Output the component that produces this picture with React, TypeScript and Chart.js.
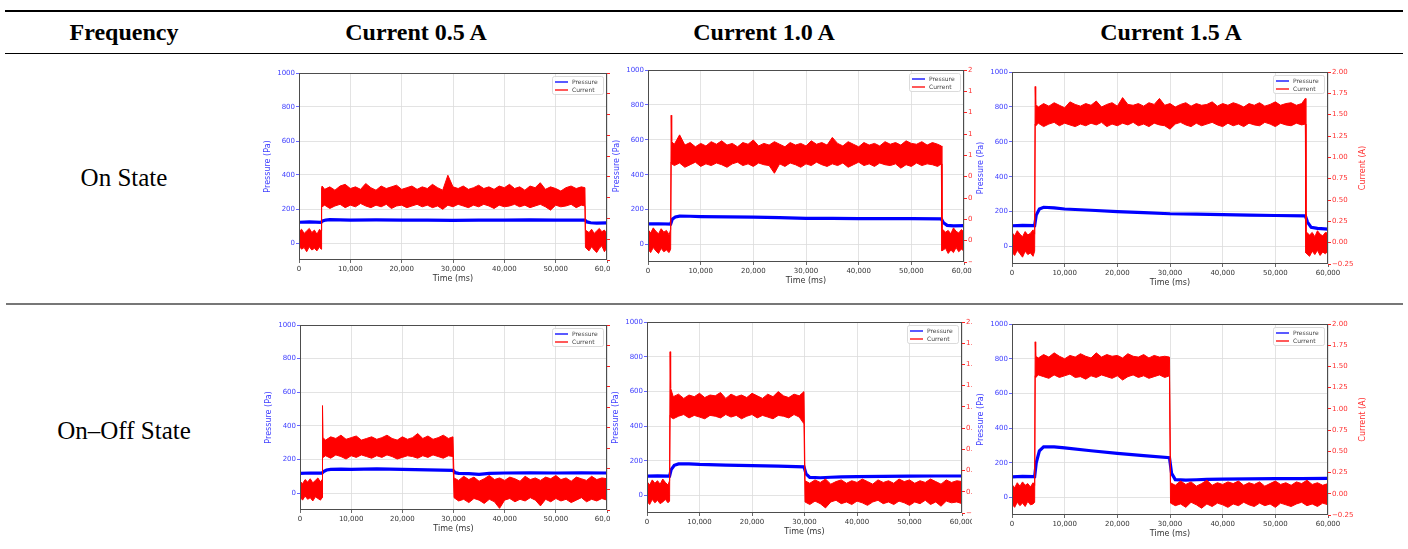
import React, { useEffect, useRef } from "react";
import { Chart, registerables } from "chart.js";

Chart.register(...registerables);

// ---------- text ----------
const HEADERS = ["Frequency", "Current 0.5 A", "Current 1.0 A", "Current 1.5 A"];
const ROW_LABELS = ["On State", "On\u2013Off State"];
const SERIES_LABELS = ["Pressure", "Current"];
const X_TITLE = "Time (ms)";
const Y_TITLE = "Pressure (Pa)";
const Y1_TITLE = "Current (A)";

// ---------- ticks ----------
const TIME_TICKS = [0, 10000, 20000, 30000, 40000, 50000, 60000];
const PRESSURE_TICKS = [0, 200, 400, 600, 800, 1000];
const CURRENT_TICKS = [-0.25, 0, 0.25, 0.5, 0.75, 1, 1.25, 1.5, 1.75, 2];
const CURRENT_TICK_LABELS = ["\u22120.25", "0.00", "0.25", "0.50", "0.75", "1.00", "1.25", "1.50", "1.75", "2.00"];

// ---------- pressure (Pa) ----------
const PRESS_T_ON = [0, 2000, 4300, 4600, 5200, 6000, 8000, 10000, 15000, 20000, 25000, 30000, 35000, 40000, 45000, 50000, 55700, 56100, 56800, 58000, 60000];
const PRESS_A = [122, 124, 121, 130, 135, 137, 136, 135, 136, 134, 135, 133, 135, 134, 136, 134, 135, 124, 119, 117, 118];
const PRESS_B = [118, 119, 117, 145, 158, 163, 162, 160, 158, 157, 154, 150, 150, 149, 148, 148, 147, 125, 110, 107, 108];
const PRESS_C = [119, 121, 120, 180, 215, 225, 222, 215, 208, 200, 194, 188, 186, 183, 180, 178, 176, 140, 110, 104, 100];

const PRESS_T_ONOFF = [0, 2000, 4300, 4600, 5200, 6000, 8000, 10000, 15000, 20000, 25000, 29900, 30300, 31000, 33000, 35000, 37000, 40000, 45000, 50000, 55000, 60000];
const PRESS_D = [118, 120, 119, 128, 138, 142, 143, 142, 144, 142, 138, 136, 122, 118, 116, 112, 118, 120, 121, 120, 121, 120];
const PRESS_E = [112, 114, 113, 150, 175, 183, 183, 180, 176, 173, 170, 166, 125, 105, 103, 106, 108, 110, 111, 112, 113, 113];
const PRESS_F = [120, 122, 121, 200, 270, 293, 292, 287, 270, 255, 242, 230, 140, 104, 101, 103, 105, 107, 108, 109, 110, 111];

// ---------- current (A): upper / lower edge of the noisy trace ----------
const CUR_T_ON = [
  0, 500, 1000, 1500, 2000, 2500, 3000, 3500, 4000, 4300,
  4400, 4500, 5000, 6000, 7000, 8000, 9000, 10000, 11000, 12000,
  13000, 14000, 15000, 16000, 17000, 18000, 19000, 20000, 21000, 22000,
  23000, 24000, 25000, 26000, 27000, 28000, 29000, 30000, 31000, 32000,
  33000, 34000, 35000, 36000, 37000, 38000, 39000, 40000, 41000, 42000,
  43000, 44000, 45000, 46000, 47000, 48000, 49000, 50000, 51000, 52000,
  53000, 54000, 55000, 55700,
  55800, 56500, 57000, 57500, 58000, 58500, 59000, 59500, 60000,
];
const CUR_A_HI = [
  0.09, 0.12, 0.07, 0.10, 0.13, 0.08, 0.11, 0.06, 0.12, 0.10,
  0.62, 0.64, 0.60, 0.63, 0.59, 0.64, 0.66, 0.61, 0.63, 0.60,
  0.67, 0.62, 0.59, 0.64, 0.61, 0.63, 0.65, 0.60, 0.62, 0.64,
  0.60, 0.63, 0.61, 0.66, 0.62, 0.59, 0.77, 0.63, 0.61, 0.64,
  0.60, 0.62, 0.65, 0.61, 0.63, 0.60, 0.64, 0.62, 0.66, 0.61,
  0.63, 0.59, 0.64, 0.62, 0.68, 0.60, 0.63, 0.61, 0.58, 0.62,
  0.64, 0.61, 0.63, 0.62,
  0.11, 0.08, 0.12, 0.07, 0.10, 0.13, 0.09, 0.11, 0.06,
];
const CUR_A_LO = [
  -0.08, -0.12, -0.10, -0.15, -0.09, -0.13, -0.11, -0.14, -0.09, -0.12,
  0.40, 0.39, 0.41, 0.37, 0.40, 0.42, 0.38, 0.41, 0.39, 0.43,
  0.40, 0.38, 0.41, 0.39, 0.42, 0.37, 0.40, 0.41, 0.38, 0.40,
  0.42, 0.39, 0.41, 0.38, 0.40, 0.36, 0.41, 0.39, 0.42, 0.40,
  0.38, 0.41, 0.39, 0.42, 0.40, 0.37, 0.41, 0.39, 0.40, 0.42,
  0.39, 0.41, 0.38, 0.40, 0.42, 0.39, 0.35, 0.41, 0.39, 0.40,
  0.42, 0.38, 0.41, 0.40,
  -0.10, -0.14, -0.09, -0.13, -0.16, -0.11, -0.08, -0.15, -0.10,
];
const CUR_B_HI = [
  0.13, 0.09, 0.15, 0.11, 0.08, 0.14, 0.10, 0.12, 0.07, 0.13,
  1.47, 1.16, 1.13, 1.24, 1.12, 1.15, 1.10, 1.14, 1.11, 1.16,
  1.13, 1.17, 1.12, 1.14, 1.10, 1.15, 1.13, 1.18, 1.11, 1.14,
  1.12, 1.16, 1.13, 1.10, 1.15, 1.12, 1.14, 1.11, 1.17, 1.13,
  1.15, 1.12, 1.21, 1.14, 1.11, 1.16, 1.13, 1.10, 1.15, 1.12,
  1.14, 1.11, 1.16, 1.13, 1.15, 1.12, 1.17, 1.14, 1.13, 1.16,
  1.12, 1.15, 1.13, 1.11,
  0.14, 0.10, 0.12, 0.08, 0.15, 0.11, 0.09, 0.13, 0.10,
];
const CUR_B_LO = [
  -0.10, -0.14, -0.08, -0.12, -0.15, -0.09, -0.13, -0.11, -0.14, -0.10,
  0.92, 0.90, 0.88, 0.91, 0.86, 0.89, 0.92, 0.87, 0.90, 0.88,
  0.91, 0.89, 0.86, 0.90, 0.92, 0.88, 0.90, 0.87, 0.91, 0.89,
  0.88, 0.79, 0.90, 0.87, 0.91, 0.89, 0.86, 0.90, 0.88, 0.92,
  0.89, 0.87, 0.90, 0.88, 0.91, 0.86, 0.89, 0.92, 0.88, 0.90,
  0.87, 0.91, 0.89, 0.88, 0.90, 0.85, 0.89, 0.87, 0.91, 0.88,
  0.90, 0.89, 0.87, 0.90,
  -0.12, -0.09, -0.15, -0.11, -0.14, -0.08, -0.13, -0.10, -0.12,
];
const CUR_C_HI = [
  0.12, 0.08, 0.14, 0.10, 0.07, 0.13, 0.09, 0.11, 0.15, 0.10,
  1.83, 1.62, 1.59, 1.63, 1.60, 1.64, 1.61, 1.58, 1.65, 1.62,
  1.60, 1.63, 1.61, 1.66, 1.59, 1.62, 1.64, 1.60, 1.70, 1.62,
  1.61, 1.63, 1.60, 1.64, 1.62, 1.69, 1.61, 1.63, 1.59, 1.62,
  1.64, 1.60, 1.63, 1.61, 1.62, 1.65, 1.60, 1.63, 1.61, 1.64,
  1.62, 1.59, 1.63, 1.61, 1.64, 1.60, 1.62, 1.65, 1.61, 1.63,
  1.64, 1.61, 1.63, 1.69,
  0.13, 0.09, 0.12, 0.07, 0.14, 0.10, 0.08, 0.12, 0.11,
];
const CUR_C_LO = [
  -0.11, -0.15, -0.09, -0.13, -0.17, -0.10, -0.14, -0.12, -0.16, -0.10,
  1.39, 1.37, 1.40, 1.36, 1.39, 1.41, 1.37, 1.40, 1.38, 1.36,
  1.39, 1.37, 1.40, 1.38, 1.41, 1.36, 1.39, 1.37, 1.40, 1.38,
  1.41, 1.37, 1.39, 1.36, 1.40, 1.38, 1.37, 1.33, 1.39, 1.41,
  1.38, 1.36, 1.40, 1.37, 1.39, 1.41, 1.38, 1.36, 1.40, 1.37,
  1.39, 1.36, 1.40, 1.38, 1.37, 1.41, 1.39, 1.36, 1.40, 1.38,
  1.37, 1.40, 1.38, 1.39,
  -0.12, -0.16, -0.10, -0.14, -0.09, -0.15, -0.11, -0.13, -0.10,
];

const CUR_T_ONOFF = [
  0, 500, 1000, 1500, 2000, 2500, 3000, 3500, 4000, 4300,
  4400, 4500, 5000, 6000, 7000, 8000, 9000, 10000, 11000, 12000,
  13000, 14000, 15000, 16000, 17000, 18000, 19000, 20000, 21000, 22000,
  23000, 24000, 25000, 26000, 27000, 28000, 29000, 29900,
  30100, 31000, 32000, 33000, 34000, 35000, 36000, 37000, 38000, 39000,
  40000, 41000, 42000, 43000, 44000, 45000, 46000, 47000, 48000, 49000,
  50000, 51000, 52000, 53000, 54000, 55000, 56000, 57000, 58000, 59000,
  60000,
];
const CUR_D_HI = [
  0.10, 0.07, 0.12, 0.09, 0.13, 0.08, 0.11, 0.14, 0.09, 0.12,
  1.02, 0.63, 0.60, 0.64, 0.62, 0.66, 0.61, 0.63, 0.65, 0.60,
  0.62, 0.64, 0.61, 0.63, 0.66, 0.62, 0.60, 0.64, 0.61, 0.63,
  0.68, 0.62, 0.65, 0.61, 0.63, 0.66, 0.62, 0.64,
  0.14, 0.11, 0.16, 0.12, 0.15, 0.10, 0.13, 0.17, 0.12, 0.14,
  0.11, 0.15, 0.13, 0.10, 0.16, 0.12, 0.14, 0.11, 0.15, 0.13,
  0.17, 0.12, 0.14, 0.10, 0.15, 0.13, 0.11, 0.16, 0.12, 0.14,
  0.13,
];
const CUR_D_LO = [
  -0.09, -0.13, -0.08, -0.12, -0.10, -0.14, -0.09, -0.11, -0.13, -0.10,
  0.42, 0.39, 0.41, 0.38, 0.42, 0.40, 0.37, 0.41, 0.39, 0.42,
  0.40, 0.38, 0.41, 0.39, 0.42, 0.40, 0.37, 0.39, 0.41, 0.40,
  0.38, 0.41, 0.39, 0.42, 0.40, 0.38, 0.41, 0.40,
  -0.10, -0.14, -0.12, -0.16, -0.11, -0.13, -0.17, -0.12, -0.15, -0.23,
  -0.13, -0.11, -0.15, -0.12, -0.14, -0.10, -0.13, -0.20, -0.12, -0.15,
  -0.11, -0.14, -0.12, -0.16, -0.13, -0.10, -0.15, -0.12, -0.14, -0.11,
  -0.13,
];
const CUR_E_HI = [
  0.12, 0.08, 0.14, 0.10, 0.13, 0.09, 0.15, 0.11, 0.08, 0.13,
  1.65, 1.22, 1.12, 1.15, 1.10, 1.14, 1.12, 1.16, 1.11, 1.14,
  1.13, 1.17, 1.10, 1.15, 1.12, 1.14, 1.11, 1.16, 1.13, 1.10,
  1.15, 1.12, 1.18, 1.13, 1.11, 1.15, 1.13, 1.18,
  0.13, 0.10, 0.14, 0.11, 0.15, 0.09, 0.12, 0.14, 0.10, 0.13,
  0.11, 0.15, 0.12, 0.09, 0.14, 0.11, 0.13, 0.10, 0.15, 0.12,
  0.14, 0.10, 0.13, 0.11, 0.15, 0.12, 0.09, 0.14, 0.11, 0.13,
  0.12,
];
const CUR_E_LO = [
  -0.11, -0.15, -0.09, -0.13, -0.10, -0.14, -0.12, -0.09, -0.13, -0.11,
  0.90, 0.88, 0.86, 0.89, 0.91, 0.87, 0.90, 0.88, 0.86, 0.90,
  0.89, 0.87, 0.91, 0.88, 0.90, 0.86, 0.89, 0.91, 0.87, 0.90,
  0.88, 0.86, 0.90, 0.89, 0.87, 0.91, 0.88, 0.80,
  -0.12, -0.15, -0.11, -0.14, -0.19, -0.12, -0.10, -0.14, -0.12, -0.15,
  -0.11, -0.13, -0.16, -0.12, -0.10, -0.14, -0.12, -0.15, -0.11, -0.13,
  -0.16, -0.12, -0.14, -0.10, -0.15, -0.12, -0.17, -0.11, -0.13, -0.12,
  -0.14,
];
const CUR_F_HI = [
  0.11, 0.07, 0.13, 0.09, 0.14, 0.10, 0.12, 0.08, 0.13, 0.10,
  1.79, 1.62, 1.60, 1.64, 1.61, 1.66, 1.62, 1.59, 1.63, 1.61,
  1.65, 1.62, 1.60, 1.66, 1.61, 1.64, 1.62, 1.63, 1.60, 1.65,
  1.62, 1.61, 1.64, 1.60, 1.63, 1.61, 1.62, 1.61,
  0.13, 0.10, 0.15, 0.11, 0.14, 0.09, 0.12, 0.16, 0.10, 0.13,
  0.11, 0.14, 0.12, 0.15, 0.10, 0.13, 0.11, 0.14, 0.09, 0.12,
  0.15, 0.11, 0.13, 0.10, 0.14, 0.12, 0.16, 0.11, 0.13, 0.10,
  0.12,
];
const CUR_F_LO = [
  -0.12, -0.16, -0.10, -0.14, -0.11, -0.15, -0.09, -0.13, -0.12, -0.10,
  1.39, 1.37, 1.40, 1.38, 1.36, 1.40, 1.37, 1.39, 1.41, 1.37,
  1.38, 1.35, 1.39, 1.37, 1.40, 1.38, 1.36, 1.39, 1.34, 1.38,
  1.40, 1.37, 1.39, 1.36, 1.38, 1.40, 1.37, 1.39,
  -0.11, -0.14, -0.12, -0.16, -0.10, -0.13, -0.17, -0.12, -0.15, -0.11,
  -0.13, -0.16, -0.12, -0.14, -0.10, -0.13, -0.15, -0.11, -0.14, -0.12,
  -0.16, -0.11, -0.13, -0.15, -0.12, -0.10, -0.14, -0.12, -0.15, -0.11,
  -0.13,
];

// ---------- layout ----------
const SERIF = '"Liberation Serif", "Times New Roman", serif';
const SANS = '"DejaVu Sans", sans-serif';
const LEFT_W = 40;
const RIGHT_W = 46;
const TOP_PAD = 6;
const X_H = 26;

type PanelSpec = {
  clip: number[];
  plot: number[];
  pT: number[];
  pV: number[];
  cT: number[];
  cHi: number[];
  cLo: number[];
};

const PANELS: PanelSpec[] = [
  { clip: [250, 58, 610, 300], plot: [299, 73, 607, 260], pT: PRESS_T_ON, pV: PRESS_A, cT: CUR_T_ON, cHi: CUR_A_HI, cLo: CUR_A_LO },
  { clip: [610, 58, 972, 300], plot: [648, 70, 964, 262], pT: PRESS_T_ON, pV: PRESS_B, cT: CUR_T_ON, cHi: CUR_B_HI, cLo: CUR_B_LO },
  { clip: [972, 58, 1408, 300], plot: [1012, 72, 1328, 264], pT: PRESS_T_ON, pV: PRESS_C, cT: CUR_T_ON, cHi: CUR_C_HI, cLo: CUR_C_LO },
  { clip: [250, 308, 610, 549], plot: [300, 325, 607, 510], pT: PRESS_T_ONOFF, pV: PRESS_D, cT: CUR_T_ONOFF, cHi: CUR_D_HI, cLo: CUR_D_LO },
  { clip: [610, 308, 972, 549], plot: [647, 322, 962, 513], pT: PRESS_T_ONOFF, pV: PRESS_E, cT: CUR_T_ONOFF, cHi: CUR_E_HI, cLo: CUR_E_LO },
  { clip: [972, 308, 1408, 549], plot: [1012, 324, 1328, 515], pT: PRESS_T_ONOFF, pV: PRESS_F, cT: CUR_T_ONOFF, cHi: CUR_F_HI, cLo: CUR_F_LO },
];

const decorPlugin = {
  id: "panelDecor",
  afterDatasetsDraw(chart: any) {
    const { ctx, chartArea: ca } = chart;
    ctx.save();
    // frame (all four spines)
    ctx.strokeStyle = "#4d4d4d";
    ctx.lineWidth = 1;
    ctx.strokeRect(Math.round(ca.left) + 0.5, Math.round(ca.top) + 0.5, Math.round(ca.right - ca.left) - 1, Math.round(ca.bottom - ca.top) - 1);

    // legend (upper right)
    const w = 51;
    const h = 18;
    const x0 = Math.round(ca.right) - 4 - w;
    const y0 = Math.round(ca.top) + 3;
    ctx.fillStyle = "rgba(255,255,255,0.85)";
    ctx.strokeStyle = "#d2d2d2";
    ctx.lineWidth = 0.8;
    ctx.beginPath();
    ctx.roundRect(x0 + 0.5, y0 + 0.5, w, h, 2);
    ctx.fill();
    ctx.stroke();
    const ds = chart.data.datasets;
    const rows = [
      { color: ds[0].borderColor, label: ds[0].label, y: y0 + 6 },
      { color: ds[1].borderColor, label: ds[1].label, y: y0 + 14 },
    ];
    ctx.font = `6px ${SANS}`;
    ctx.textBaseline = "middle";
    ctx.textAlign = "left";
    for (const r of rows) {
      ctx.strokeStyle = r.color;
      ctx.lineWidth = 1.3;
      ctx.beginPath();
      ctx.moveTo(x0 + 3, r.y);
      ctx.lineTo(x0 + 16, r.y);
      ctx.stroke();
      ctx.fillStyle = "#444";
      ctx.fillText(r.label, x0 + 20, r.y);
    }

    // right axis title, reading bottom to top
    ctx.translate(ca.right + 35, (ca.top + ca.bottom) / 2);
    ctx.rotate(-Math.PI / 2);
    ctx.fillStyle = "#ff3030";
    ctx.font = `8px ${SANS}`;
    ctx.textAlign = "center";
    ctx.textBaseline = "middle";
    ctx.fillText(Y1_TITLE, 0, 0);
    ctx.restore();
  },
};

function Panel({ spec }: { spec: PanelSpec }) {
  const ref = useRef<HTMLCanvasElement>(null);
  const [cl, ct, cr, cb] = spec.clip;
  const [pl, pt, pr, pb] = spec.plot;
  const cw = pr - pl + LEFT_W + RIGHT_W;
  const ch = pb - pt + TOP_PAD + X_H;

  useEffect(() => {
    const canvas = ref.current;
    if (!canvas) return;
    const pressure = spec.pT.map((x, i) => ({ x, y: spec.pV[i] }));
    const hi = spec.cT.map((x, i) => ({ x, y: spec.cHi[i] }));
    const lo = spec.cT.map((x, i) => ({ x, y: spec.cLo[i] }));
    const tickFont = { family: SANS, size: 7 };
    const titleFont = { family: SANS, size: 8 };
    const chart = new Chart(canvas, {
      type: "line",
      data: {
        datasets: [
          { label: SERIES_LABELS[0], data: pressure, yAxisID: "y", borderColor: "#0000ff", backgroundColor: "#0000ff", borderWidth: 3.2, pointRadius: 0, fill: false, tension: 0, order: 2 },
          { label: SERIES_LABELS[1], data: hi, yAxisID: "y1", borderColor: "#ff0000", backgroundColor: "#ff0000", borderWidth: 1, pointRadius: 0, fill: false, tension: 0, order: 1 },
          { label: SERIES_LABELS[1], data: lo, yAxisID: "y1", borderColor: "#ff0000", backgroundColor: "#ff0000", borderWidth: 1, pointRadius: 0, fill: "-1", tension: 0, order: 1 },
        ],
      } as any,
      options: {
        animation: false,
        responsive: false,
        maintainAspectRatio: false,
        devicePixelRatio: 1,
        events: [],
        layout: { padding: { top: TOP_PAD, left: 0, right: 0, bottom: 0 } },
        plugins: { legend: { display: false }, tooltip: { enabled: false } },
        scales: {
          x: {
            type: "linear",
            min: 0,
            max: 60000,
            afterBuildTicks: (s: any) => { s.ticks = TIME_TICKS.map((v) => ({ value: v })); },
            afterFit: (s: any) => { s.height = X_H; },
            ticks: { color: "#333", font: tickFont, padding: 1.5, maxRotation: 0, autoSkip: false, callback: (v: any) => Number(v).toLocaleString("en-US") },
            grid: { color: "#dcdcdc", lineWidth: 0.8, tickColor: "#444", tickLength: 3 },
            border: { display: false },
            title: { display: true, text: X_TITLE, color: "#333", font: titleFont, padding: { top: 0, bottom: 2 } },
          },
          y: {
            type: "linear",
            position: "left",
            min: -100,
            max: 1000,
            afterBuildTicks: (s: any) => { s.ticks = PRESSURE_TICKS.map((v) => ({ value: v })); },
            afterFit: (s: any) => { s.width = LEFT_W; },
            ticks: { color: "#3d3dff", font: tickFont, padding: 1, callback: (v: any) => String(v) },
            grid: { color: "#dcdcdc", lineWidth: 0.8, tickColor: "#3d3dff", tickLength: 3 },
            border: { display: false },
            title: { display: true, text: Y_TITLE, color: "#3d3dff", font: titleFont, padding: { top: 4, bottom: 0 } },
          },
          y1: {
            type: "linear",
            position: "right",
            min: -0.25,
            max: 2,
            afterBuildTicks: (s: any) => { s.ticks = CURRENT_TICKS.map((v) => ({ value: v })); },
            afterFit: (s: any) => { s.width = RIGHT_W; },
            ticks: {
              color: "#ff3030",
              font: tickFont,
              padding: 1,
              callback: (v: any) => {
                const i = CURRENT_TICKS.findIndex((t) => Math.abs(t - Number(v)) < 1e-9);
                return i >= 0 ? CURRENT_TICK_LABELS[i] : "";
              },
            },
            grid: { drawOnChartArea: false, tickColor: "#ff2020", tickLength: 3 },
            border: { display: false },
          },
        },
      } as any,
      plugins: [decorPlugin],
    });
    return () => chart.destroy();
  }, []);

  return (
    <div style={{ position: "absolute", left: cl, top: ct, width: cr - cl, height: cb - ct, overflow: "hidden" }}>
      <canvas
        ref={ref}
        width={cw}
        height={ch}
        style={{ position: "absolute", left: pl - LEFT_W - cl, top: pt - TOP_PAD - ct, width: cw, height: ch }}
      />
    </div>
  );
}

function Label({ text, cx, cy, size, bold }: { text: string; cx: number; cy: number; size: number; bold: boolean }) {
  return (
    <div
      style={{
        position: "absolute",
        left: cx - 200,
        width: 400,
        top: cy - 20,
        height: 40,
        lineHeight: "40px",
        textAlign: "center",
        fontFamily: SERIF,
        fontSize: size,
        fontWeight: bold ? 700 : 400,
        color: "#000",
        whiteSpace: "nowrap",
      }}
    >
      {text}
    </div>
  );
}

const HEADER_X = [124, 416, 764, 1171];
const ROW_Y = [178, 431];

export default function App() {
  return (
    <div style={{ position: "absolute", left: 0, top: 0, width: 1408, height: 549, background: "#fff", overflow: "hidden" }}>
      <div style={{ position: "absolute", left: 5, top: 10, width: 1398, height: 2, background: "#000" }} />
      <div style={{ position: "absolute", left: 5, top: 53, width: 1398, height: 1, background: "#000" }} />
      <div style={{ position: "absolute", left: 6, top: 303, width: 1397, height: 2, background: "#777" }} />
      {HEADERS.map((h, i) => (
        <Label key={h} text={h} cx={HEADER_X[i]} cy={32} size={24} bold />
      ))}
      {ROW_LABELS.map((r, i) => (
        <Label key={r} text={r} cx={124} cy={ROW_Y[i]} size={25} bold={false} />
      ))}
      {PANELS.map((p, i) => (
        <Panel key={i} spec={p} />
      ))}
    </div>
  );
}
